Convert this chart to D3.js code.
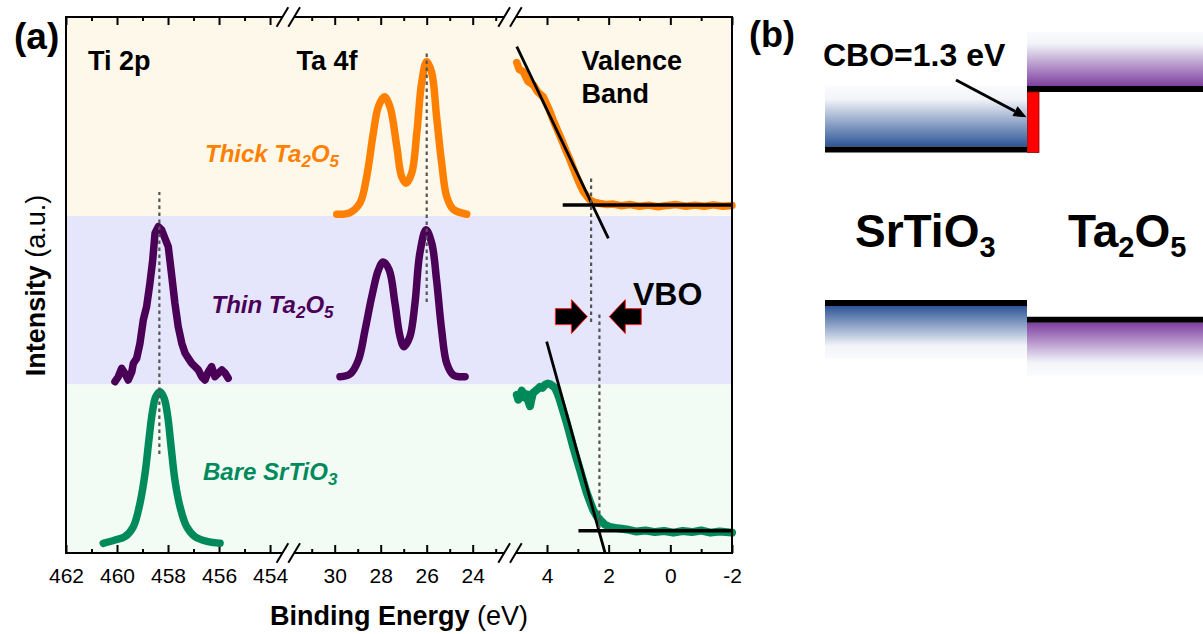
<!DOCTYPE html>
<html><head><meta charset="utf-8">
<script src="https://cdn.jsdelivr.net/npm/d3@7"></script>
<style>body{margin:0;background:#fff}svg{display:block}text{font-family:"Liberation Sans",Arial,sans-serif}</style>
</head><body><svg id="c" width="1203" height="634"></svg>
<script>
// ---------------- DATA ----------------
// x values: binding energy (eV); y values: stacked intensity (a.u., 0-100 frame units)
const thinTi2p = [[460.08,31.96],[459.95,32.89],[459.82,34.46],[459.69,33.53],[459.56,32.28],[459.42,33.82],[459.36,35.39],[459.23,36.32],[459.10,39.12],[458.97,43.47],[458.84,45.95],[458.71,50.32],[458.60,54.66],[458.51,59.65],[458.38,60.88],[458.25,60.26],[458.12,58.71],[457.99,57.15],[457.85,51.55],[457.73,46.59],[457.60,42.22],[457.46,39.12],[457.33,37.26],[457.20,36.32],[457.07,35.39],[456.94,34.76],[456.81,34.14],[456.68,32.89],[456.55,32.28],[456.42,33.82],[456.29,34.76],[456.16,32.89],[456.03,33.53],[455.89,34.14],[455.76,33.53],[455.64,32.59]];
const bareTi2p = [[460.54,1.81],[460.08,2.43],[459.69,3.04],[459.36,4.91],[459.10,9.27],[458.90,14.87],[458.75,21.08],[458.62,26.06],[458.48,29.16],[458.31,30.09],[458.15,28.86],[458.01,25.43],[457.88,19.83],[457.73,13.62],[457.53,8.64],[457.27,4.91],[456.94,3.04],[456.42,2.11],[455.96,1.81]];
const thickTa4f = [[29.91,63.2],[29.33,63.5],[28.90,65.3],[28.61,70.2],[28.32,78.4],[28.10,83.3],[27.84,85.1],[27.60,83.3],[27.30,75.8],[27.09,70.2],[26.90,69.0],[26.65,70.9],[26.43,78.4],[26.22,87.7],[26.00,91.7],[25.78,89.6],[25.57,81.4],[25.35,72.8],[25.13,66.5],[24.84,64.1],[24.26,63.2]];
const thinTa4f = [[29.77,32.9],[29.33,33.4],[28.97,36.0],[28.68,41.6],[28.39,47.8],[28.10,52.8],[27.89,54.3],[27.63,52.8],[27.38,46.6],[27.16,40.4],[26.99,38.5],[26.73,40.4],[26.51,46.6],[26.30,55.9],[26.03,60.3],[25.78,57.8],[25.57,50.9],[25.35,41.6],[25.13,35.4],[24.84,33.2],[24.33,32.9]];
const thickVB = [[4.98,91.5],[4.90,90.2],[4.77,89.8],[4.62,88.0],[4.44,87.3],[4.30,86.0],[4.12,85.1],[3.95,83.0],[3.80,80.8],[3.66,78.9],[3.52,77.0],[3.38,75.0],[3.25,73.3],[3.15,71.8],[3.04,70.2],[2.92,68.6],[2.82,67.4],[2.70,66.5],[2.61,65.9],[2.45,65.4],[2.28,65.2],[2.05,65.0],[1.85,65.1],[1.6,64.8],[1.3,65.0],[1.0,64.7],[0.7,64.9],[0.4,64.6],[0.1,64.85],[-0.2,65.0],[-0.5,64.7],[-0.8,64.9],[-1.1,64.7],[-1.4,64.95],[-1.7,64.7],[-2.0,64.85]];
const bareVB = [[4.98,29.5],[4.93,28.6],[4.88,29.2],[4.82,30.3],[4.78,29.9],[4.72,29.0],[4.65,29.6],[4.60,28.2],[4.55,27.4],[4.50,28.8],[4.45,29.9],[4.38,30.2],[4.32,30.5],[4.23,31.0],[4.15,30.8],[4.06,31.4],[3.98,31.6],[3.90,31.5],[3.82,31.2],[3.74,30.8],[3.66,29.8],[3.58,28.5],[3.47,26.4],[3.36,24.3],[3.25,22.0],[3.15,19.8],[3.04,17.6],[2.93,15.5],[2.82,13.3],[2.71,11.2],[2.60,9.5],[2.50,8.0],[2.39,6.9],[2.28,6.2],[2.12,5.3],[1.96,4.85],[1.7,4.6],[1.41,4.4],[1.1,4.0],[0.8,4.2],[0.5,3.9],[0.2,4.1],[-0.1,3.8],[-0.4,4.1],[-0.7,3.9],[-1.0,4.2],[-1.3,3.8],[-1.6,4.0],[-2.0,3.8]];
const thickFit = [[4.98,94.46],[2.01,58.71]];
const thickBase = [[3.49,64.93],[-2,64.93]];
const bareFit = [[4.01,39.42],[2.12,0.06]];
const bareBase = [[2.98,4.16],[-2,4.16]];
// reference (dotted) lines: [eV, y from, y to]
const tiRef = [458.34,18.47,67.35];
const taRef = [26.0,46.83,93.84];
const vbRefThick = [2.57,43.1,69.96];
const vbRefBare = [2.30,4.66,44.78];
const vboArrowTips = [2.69,1.98];
const vboArrowLevel = 44.1;
// tick values per axis segment
const majorTicks = [[462,460,458,456,454],[30,28,26,24],[4,2,0,-2]];
const minorTicks = [[461,459,457,455],[31,29,27,25,23],[3,1,-1]];
// background bands (intensity units) and colours
const bandEdges = [0,31.5,62.9,100];
const bandColors = ["#F2FCF5","#E5E5FC","#FEF8EB"];
// band diagram (eV)
const materials = ["SrTiO3","Ta2O5"];
const vbm = [0,-0.36];
const cbm = [3.3,4.6];
const cbDepth = [1.37,1.23];
const vbDepth = [1.2,1.2];

// ---------------- LAYOUT ----------------
const svg = d3.select("#c");
const P = {l:66,r:732,t:17,b:553};
const y = d3.scaleLinear().domain([0,100]).range([P.b,P.t]);
const segDomains = [[462,453.3],[32,22.4],[5.2,-2]];
const segRanges = [[66,287.9],[288.7,509.5],[510,732]];
const xs = segDomains.map((d,i)=>d3.scaleLinear().domain(d).range(segRanges[i]));
const ORANGE="#FF8000", PURPLE="#4B0057", GREEN="#008A5C";
const FONT='"Liberation Sans",Arial,sans-serif';

// bands
svg.append("g").selectAll("rect").data(bandColors).join("rect")
  .attr("x",P.l).attr("width",P.r-P.l)
  .attr("y",(c,i)=>y(bandEdges[i+1])).attr("height",(c,i)=>y(bandEdges[i])-y(bandEdges[i+1]))
  .attr("fill",c=>c);

// axes
majorTicks.forEach((mt,i)=>{
  const gb = svg.append("g").attr("transform",`translate(0,${P.b})`)
    .call(d3.axisBottom(xs[i]).tickValues(mt).tickSizeInner(-8).tickSizeOuter(0).tickPadding(15).tickFormat(d=>String(d)));
  gb.select(".domain").remove();
  gb.attr("font-size",21).attr("font-family",FONT);
  gb.selectAll("line").attr("stroke-width",2);
  const gbm = svg.append("g").attr("transform",`translate(0,${P.b})`)
    .call(d3.axisBottom(xs[i]).tickValues(minorTicks[i]).tickSizeInner(-4).tickSizeOuter(0).tickFormat(""));
  gbm.select(".domain").remove(); gbm.selectAll("line").attr("stroke-width",2);
  const gt = svg.append("g").attr("transform",`translate(0,${P.t})`)
    .call(d3.axisTop(xs[i]).tickValues(mt).tickSizeInner(-8).tickSizeOuter(0).tickFormat(""));
  gt.select(".domain").remove(); gt.selectAll("line").attr("stroke-width",2);
  const gtm = svg.append("g").attr("transform",`translate(0,${P.t})`)
    .call(d3.axisTop(xs[i]).tickValues(minorTicks[i]).tickSizeInner(-4).tickSizeOuter(0).tickFormat(""));
  gtm.select(".domain").remove(); gtm.selectAll("line").attr("stroke-width",2);
});

// curves
const series = [
  {seg:0,data:thinTi2p,color:PURPLE,curve:d3.curveLinear,w:7.5},
  {seg:0,data:bareTi2p,color:GREEN,curve:d3.curveCatmullRom,w:7.5},
  {seg:1,data:thickTa4f,color:ORANGE,curve:d3.curveCatmullRom,w:7.5},
  {seg:1,data:thinTa4f,color:PURPLE,curve:d3.curveCatmullRom,w:7.5},
  {seg:2,data:thickVB,color:ORANGE,curve:d3.curveLinear,w:7.5},
  {seg:2,data:bareVB,color:GREEN,curve:d3.curveLinear,w:8}
];
series.forEach(s=>{
  const line = d3.line().x(d=>xs[s.seg](d[0])).y(d=>y(d[1])).curve(s.curve);
  svg.append("path").attr("d",line(s.data)).attr("fill","none").attr("stroke",s.color)
    .attr("stroke-width",s.w).attr("stroke-linejoin","round").attr("stroke-linecap","round");
});

// fit lines
[[thickFit,2.8],[thickBase,3.5],[bareFit,2.8],[bareBase,3.5]].forEach(([d,w])=>{
  svg.append("line").attr("x1",xs[2](d[0][0])).attr("y1",y(d[0][1]))
    .attr("x2",xs[2](d[1][0])).attr("y2",y(d[1][1])).attr("stroke","#000").attr("stroke-width",w);
});

// dotted reference lines
[[0,tiRef],[1,taRef],[2,vbRefThick],[2,vbRefBare]].forEach(([sg,r])=>{
  svg.append("line").attr("x1",xs[sg](r[0])).attr("x2",xs[sg](r[0]))
    .attr("y1",y(r[1])).attr("y2",y(r[2])).attr("stroke","#555").attr("stroke-width",2.2)
    .attr("stroke-dasharray","3.5,3.5");
});

// VBO arrows
vboArrowTips.forEach((e,i)=>{
  const tx = xs[2](e), ty = y(vboArrowLevel), s = i===0?1:-1;
  const pts = [[-32,-8],[-16,-8],[-16,-17],[0,0],[-16,17],[-16,8],[-32,8]].map(p=>[tx+s*p[0],ty+p[1]]);
  svg.append("path").attr("d","M"+pts.join("L")+"Z").attr("fill","#000").attr("stroke","#FF2020").attr("stroke-width",1);
});

// frame
svg.append("rect").attr("x",P.l).attr("y",P.t).attr("width",P.r-P.l).attr("height",P.b-P.t)
  .attr("fill","none").attr("stroke","#000").attr("stroke-width",2);

// axis breaks
[288.3,510].forEach(c=>{
  [P.t,P.b].forEach(yy=>{
    svg.append("rect").attr("x",c-5.8).attr("y",yy-2.5).attr("width",11.6).attr("height",5).attr("fill","#fff");
    [[c-11.7,c],[c,c+11.7]].forEach(([a,b])=>{
      svg.append("line").attr("x1",a).attr("y1",yy+9.7).attr("x2",b).attr("y2",yy-9.7)
        .attr("stroke","#000").attr("stroke-width",2);
    });
  });
});

// texts panel a
function txt(x,yy,size,weight,str,opts={}){
  const t = svg.append("text").attr("x",x).attr("y",yy).attr("font-size",size).attr("font-weight",weight)
    .attr("font-family",FONT).attr("fill",opts.fill||"#000");
  if(opts.italic) t.attr("font-style","italic");
  if(opts.anchor) t.attr("text-anchor",opts.anchor);
  return t;
}
function withSubs(t,parts,subSize,shift){
  parts.forEach(p=>{
    if(p.sub) t.append("tspan").attr("font-size",subSize).attr("dy",shift).text(p.sub);
    else t.append("tspan").attr("dy",p.after?-shift:0).text(p.t);
  });
}
txt(14,49,37,"bold").text("(a)");
txt(749,47,36,"bold").text("(b)");
txt(88,69.5,27,"bold").text("Ti 2p");
txt(296.5,69.5,27,"bold").text("Ta 4f");
txt(581.5,70,27,"bold").text("Valence");
txt(581.5,103.3,27,"bold").text("Band");
txt(633,305,32,"bold").text("VBO");

let t1 = txt(205,161.7,24,"bold",null,{italic:true,fill:ORANGE});
withSubs(t1,[{t:"Thick Ta"},{sub:"2"},{t:"O",after:true},{sub:"5"}],17,5);
let t2 = txt(211.5,312.7,24,"bold",null,{italic:true,fill:PURPLE});
withSubs(t2,[{t:"Thin Ta"},{sub:"2"},{t:"O",after:true},{sub:"5"}],17,5);
let t3 = txt(203,480,24,"bold",null,{italic:true,fill:GREEN});
withSubs(t3,[{t:"Bare SrTiO"},{sub:"3"}],17,5);

// axis titles
const xt = txt(399,625,27,"normal",null,{anchor:"middle"});
xt.append("tspan").attr("font-weight","bold").text("Binding Energy");
xt.append("tspan").text(" (eV)");
const yt = svg.append("text").attr("transform","translate(45,285.5) rotate(-90)").attr("text-anchor","middle")
  .attr("font-size",27).attr("font-family",FONT);
yt.append("tspan").attr("font-weight","bold").text("Intensity");
yt.append("tspan").text(" (a.u.)");

// ---------------- PANEL b ----------------
const eY = d3.scaleLinear().domain([0,3.3]).range([303,149.5]);
const matX = [[825,1027],[1027,1203]];
const baseCols = ["#2E5597","#7E3FA0"];
const defs = svg.append("defs");
baseCols.forEach((c,i)=>{
  const gd = defs.append("linearGradient").attr("id","cb"+i).attr("x1",0).attr("y1",0).attr("x2",0).attr("y2",1);
  gd.append("stop").attr("offset",0).attr("stop-color","#FAFBFD");
  gd.append("stop").attr("offset",0.22).attr("stop-color","#F2F4F9");
  gd.append("stop").attr("offset",1).attr("stop-color",c);
  const gu = defs.append("linearGradient").attr("id","vb"+i).attr("x1",0).attr("y1",0).attr("x2",0).attr("y2",1);
  gu.append("stop").attr("offset",0).attr("stop-color",c);
  gu.append("stop").attr("offset",0.75).attr("stop-color","#F2F4F9");
  gu.append("stop").attr("offset",1).attr("stop-color","#FAFBFD");
});
materials.forEach((m,i)=>{
  const [x0,x1] = matX[i];
  svg.append("rect").attr("x",x0).attr("width",x1-x0).attr("y",eY(cbm[i]+cbDepth[i]))
    .attr("height",eY(cbm[i])-3-eY(cbm[i]+cbDepth[i])).attr("fill",`url(#cb${i})`);
  svg.append("rect").attr("x",x0).attr("width",x1-x0).attr("y",eY(vbm[i])+3)
    .attr("height",eY(vbm[i]-vbDepth[i])-eY(vbm[i])-3).attr("fill",`url(#vb${i})`);
  [cbm[i],vbm[i]].forEach(e=>{
    svg.append("line").attr("x1",x0).attr("x2",x1).attr("y1",eY(e)).attr("y2",eY(e))
      .attr("stroke","#000").attr("stroke-width",6);
  });
});
// CBO red bar
svg.append("rect").attr("x",1027.5).attr("width",11.5).attr("y",eY(cbm[1])+3)
  .attr("height",eY(cbm[0])-eY(cbm[1])).attr("fill","#FF0000").attr("stroke","#8B0000").attr("stroke-width",0.8);
// CBO arrow
const ax0=956, ay0=80, ax1=1026.5, ay1=117.3;
const ang = Math.atan2(ay1-ay0,ax1-ax0);
const hl=13, hw=5.5;
const bx = ax1-hl*Math.cos(ang), by = ay1-hl*Math.sin(ang);
svg.append("line").attr("x1",ax0).attr("y1",ay0).attr("x2",bx).attr("y2",by).attr("stroke","#000").attr("stroke-width",3);
svg.append("path").attr("d",`M${ax1},${ay1}L${bx+hw*Math.sin(ang)},${by-hw*Math.cos(ang)}L${bx-hw*Math.sin(ang)},${by+hw*Math.cos(ang)}Z`).attr("fill","#000");
txt(823,65.7,32,"bold").text("CBO=1.3 eV");
let m1 = txt(855,246.7,46,"bold");
withSubs(m1,[{t:"SrTiO"},{sub:"3"}],29,10);
let m2 = txt(1068,246.7,46,"bold");
withSubs(m2,[{t:"Ta"},{sub:"2"},{t:"O",after:true},{sub:"5"}],29,10);
</script></body></html>
